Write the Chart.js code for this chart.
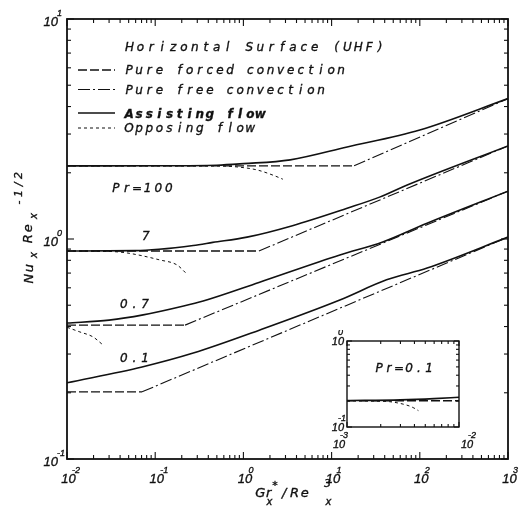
<!DOCTYPE html>
<html>
<head>
<meta charset="utf-8">
<script src="https://cdn.jsdelivr.net/npm/chart.js@4.4.1/dist/chart.umd.min.js"></script>
<style>
  html, body { margin: 0; padding: 0; background: #fff; }
  #wrap { position: relative; width: 524px; height: 522px; }
  #main { position: absolute; left: 0; top: 0; }
  #inset { position: absolute; left: 325px; top: 330px; }
</style>
</head>
<body>
<div id="wrap">
  <canvas id="main" width="524" height="522"></canvas>
  <canvas id="inset" width="160" height="125"></canvas>
</div>
<script>
// Nu_x Re_x^-1/2 vs Gr_x*/Re_x^3, horizontal surface, UHF
const prLabels = ['Pr=100', '7', '0.7', '0.1'];
const labelAtX = [0.0324, 0.0708, 0.0399, 0.0399];
const labelAtY = [1.64, 0.99, 0.486, 0.276];

const forcedNu = [2.15, 0.882, 0.406, 0.202];   // pure forced convection
const freeStart = [18, 1.5, 0.218, 0.071];      // where the free convection line takes over
const freeEndNu = [4.35, 2.65, 1.65, 1.02];     // free convection value at 10^3

const assistX100 = [0.01, 0.1, 0.5, 1, 3.4, 15, 100, 1000];
const assistY100 = [2.15, 2.153, 2.165, 2.2, 2.29, 2.62, 3.13, 4.35];
const assistX7 = [0.01, 0.06, 0.11, 0.27, 0.45, 1.1, 3.6, 15, 35, 72, 1000];
const assistY7 = [0.882, 0.885, 0.898, 0.935, 0.965, 1.02, 1.15, 1.38, 1.55, 1.76, 2.65];
const assistX07 = [0.01, 0.03, 0.073, 0.21, 0.35, 1.5, 12.4, 38, 121, 1000];
const assistY07 = [0.415, 0.428, 0.452, 0.496, 0.523, 0.635, 0.846, 0.97, 1.18, 1.65];
const assistX01 = [0.01, 0.071, 0.27, 1.54, 12.4, 42, 121, 1000];
const assistY01 = [0.222, 0.262, 0.303, 0.386, 0.528, 0.652, 0.738, 1.02];

const opposeX100 = [0.01, 0.5, 0.91, 1.43, 2.17, 2.8];
const opposeY100 = [2.15, 2.148, 2.12, 2.06, 1.95, 1.87];
const opposeX7 = [0.01, 0.03, 0.048, 0.113, 0.177, 0.223];
const opposeY7 = [0.882, 0.878, 0.864, 0.803, 0.762, 0.70];
const opposeX07 = [0.01, 0.014, 0.0197, 0.0249];
const opposeY07 = [0.397, 0.378, 0.359, 0.333];

// inset, Pr = 0.1
const insetForcedX = [0.001, 0.01];
const insetForcedY = [0.202, 0.202];
const insetAssistX = [0.001, 0.003, 0.006, 0.01];
const insetAssistY = [0.203, 0.207, 0.214, 0.222];
const insetOpposeX = [0.001, 0.0018, 0.0024, 0.0034, 0.0039, 0.00434];
const insetOpposeY = [0.202, 0.2, 0.197, 0.18, 0.168, 0.155];

const xTickValues = [0.01, 0.1, 1, 10, 100, 1000];
const xTickExp = ['-2', '-1', '0', '1', '2', '3'];
const yTickValues = [0.1, 1, 10];
const yTickExp = ['-1', '0', '1'];
const insetXTickExp = ['-3', '-2'];
const insetYTickExp = ['-1', '0'];

const legendTitle = 'Horizontal Surface (UHF)';
const legendNames = ['Pure forced convection', 'Pure free convection', 'Assisting flow', 'Opposing flow'];

const ink = '#111';
const styles = {
  forced: { borderDash: [9, 3], borderWidth: 1.3 },
  free: { borderDash: [12, 3, 2, 3], borderWidth: 1.1 },
  assist: { borderDash: [], borderWidth: 1.6 },
  oppose: { borderDash: [3, 3], borderWidth: 1 }
};
const legendKinds = ['forced', 'free', 'assist', 'oppose'];

const sansFont = (size, bold) => 'italic ' + (bold ? 'bold ' : '') + size + 'px "DejaVu Sans"';
const numFont = size => 'italic ' + size + 'px "Liberation Sans"';

function pts(xs, ys) {
  return xs.map((x, i) => ({ x: x, y: ys[i] }));
}
function series(data, kind) {
  return Object.assign({
    data: data,
    showLine: true,
    borderColor: ink,
    pointRadius: 0,
    fill: false,
    cubicInterpolationMode: (kind === 'assist' || kind === 'oppose') ? 'monotone' : 'default'
  }, styles[kind]);
}

const assistX = [assistX100, assistX7, assistX07, assistX01];
const assistY = [assistY100, assistY7, assistY07, assistY01];
const opposeX = [opposeX100, opposeX7, opposeX07, []];
const opposeY = [opposeY100, opposeY7, opposeY07, []];

const mainSets = [];
prLabels.forEach((pr, i) => {
  mainSets.push(series(pts([0.01, freeStart[i]], [forcedNu[i], forcedNu[i]]), 'forced'));
  mainSets.push(series(pts([freeStart[i], 1000], [forcedNu[i], freeEndNu[i]]), 'free'));
  mainSets.push(series(pts(assistX[i], assistY[i]), 'assist'));
  if (opposeX[i].length) mainSets.push(series(pts(opposeX[i], opposeY[i]), 'oppose'));
});

function seg(ctx, x1, y1, x2, y2) {
  ctx.beginPath();
  ctx.moveTo(x1, y1);
  ctx.lineTo(x2, y2);
  ctx.stroke();
}
function logTicks(min, max) {
  const out = [];
  const d0 = Math.round(Math.log10(min)), d1 = Math.round(Math.log10(max));
  for (let d = d0; d < d1; d++) {
    for (let m = 1; m <= 9; m++) out.push({ v: m * Math.pow(10, d), major: m === 1 });
  }
  out.push({ v: max, major: true });
  return out;
}
function frameAndTicks(ctx, a, xs, ys, xr, yr, major, minor, lw) {
  ctx.setLineDash([]);
  ctx.strokeStyle = ink;
  ctx.lineWidth = lw;
  ctx.strokeRect(a.left, a.top, a.right - a.left, a.bottom - a.top);
  ctx.lineWidth = 1.1;
  logTicks(xr[0], xr[1]).forEach(t => {
    const p = xs.getPixelForValue(t.v), len = t.major ? major : minor;
    seg(ctx, p, a.bottom, p, a.bottom - len);
    seg(ctx, p, a.top, p, a.top + len);
  });
  logTicks(yr[0], yr[1]).forEach(t => {
    const p = ys.getPixelForValue(t.v), len = t.major ? major : minor;
    seg(ctx, a.left, p, a.left + len, p);
    seg(ctx, a.right, p, a.right - len, p);
  });
}
// plotter-style text: each character in a fixed-pitch cell, slightly heavy strokes
function plot(ctx, text, x, y, font, pitch, align) {
  ctx.save();
  ctx.font = font;
  ctx.setLineDash([]);
  ctx.fillStyle = ink;
  ctx.strokeStyle = ink;
  ctx.lineWidth = 0.35;
  ctx.textBaseline = 'alphabetic';
  if (!pitch) {
    ctx.textAlign = align || 'left';
    ctx.fillText(text, x, y);
    ctx.strokeText(text, x, y);
  } else {
    const chars = Array.from(text);
    const total = chars.length * pitch;
    const start = align === 'center' ? x - total / 2 : align === 'right' ? x - total : x;
    ctx.textAlign = 'center';
    chars.forEach((c, i) => {
      const cx = start + (i + 0.5) * pitch;
      ctx.fillText(c, cx, y);
      ctx.strokeText(c, cx, y);
    });
  }
  ctx.restore();
}

const mainDecor = {
  id: 'mainDecor',
  afterDraw(chart) {
    const { ctx, chartArea: a, scales: { x, y } } = chart;
    ctx.save();
    frameAndTicks(ctx, a, x, y, [0.01, 1000], [0.1, 10], 7, 4, 1.8);

    // tick labels
    xTickValues.forEach((v, i) => {
      const p = x.getPixelForValue(v);
      plot(ctx, '10', p + 1.5, a.bottom + 24, numFont(13), 0, 'center');
      plot(ctx, xTickExp[i], p + 5, a.bottom + 14, numFont(9), 0, 'left');
    });
    yTickValues.forEach((v, i) => {
      const p = y.getPixelForValue(v);
      plot(ctx, '10', a.left - 9, p + 7, numFont(13), 0, 'right');
      plot(ctx, yTickExp[i], a.left - 10, p - 3, numFont(9), 0, 'left');
    });

    // curve labels
    prLabels.forEach((t, i) => {
      plot(ctx, t, x.getPixelForValue(labelAtX[i]) - 1.5, y.getPixelForValue(labelAtY[i]), sansFont(12), 10.6, 'left');
    });

    // legend
    const lx = a.left + 11, tx = a.left + 57;
    plot(ctx, legendTitle, tx, a.top + 32, sansFont(12), 10.9, 'left');
    const lineY = [51, 70.5, 94, 109];
    const textY = [55, 75, 99, 113];
    legendNames.forEach((name, i) => {
      const st = styles[legendKinds[i]];
      ctx.save();
      ctx.strokeStyle = ink;
      ctx.lineWidth = st.borderWidth;
      ctx.setLineDash(st.borderDash);
      seg(ctx, lx, a.top + lineY[i], lx + 37, a.top + lineY[i]);
      ctx.restore();
      plot(ctx, name, tx, a.top + textY[i], sansFont(12, i === 2), 10.1, 'left');
    });

    // y axis title
    ctx.save();
    ctx.translate(33, 283);
    ctx.rotate(-Math.PI / 2);
    plot(ctx, 'Nu', -1, 0, sansFont(13), 10.5, 'left');
    plot(ctx, 'x', 24, 4, sansFont(10), 8, 'left');
    plot(ctx, 'Re', 39, -1, sansFont(13), 10.5, 'left');
    plot(ctx, 'x', 63, 4, sansFont(10), 8, 'left');
    plot(ctx, '-1/2', 76, -11, sansFont(11), 9, 'left');
    ctx.restore();

    // x axis title
    plot(ctx, 'Gr', 256, 497, sansFont(13), 8.5, 'left');
    plot(ctx, 'x', 265, 505, sansFont(10), 9, 'left');
    plot(ctx, '*', 271, 489, sansFont(11), 8, 'left');
    plot(ctx, '/Re', 279, 497, sansFont(13), 10.3, 'left');
    plot(ctx, '3', 323, 487, sansFont(11), 9, 'left');
    plot(ctx, 'x', 324, 505, sansFont(10), 9, 'left');
    ctx.restore();
  }
};

new Chart(document.getElementById('main'), {
  type: 'scatter',
  data: { datasets: mainSets },
  options: {
    responsive: false,
    animation: false,
    layout: { padding: { left: 0, right: 16, top: 19, bottom: 0 } },
    plugins: { legend: { display: false }, tooltip: { enabled: false } },
    scales: {
      x: {
        type: 'logarithmic', min: 0.01, max: 1000,
        grid: { display: false }, border: { display: false }, ticks: { display: false },
        afterFit: s => { s.height = 63; }
      },
      y: {
        type: 'logarithmic', min: 0.1, max: 10,
        grid: { display: false }, border: { display: false }, ticks: { display: false },
        afterFit: s => { s.width = 67; }
      }
    }
  },
  plugins: [mainDecor]
});

const insetDecor = {
  id: 'insetDecor',
  beforeDraw(chart) {
    const { ctx, chartArea: a } = chart;
    ctx.save();
    ctx.fillStyle = '#fff';
    ctx.fillRect(a.left, a.top, a.right - a.left, a.bottom - a.top);
    ctx.restore();
  },
  afterDraw(chart) {
    const { ctx, chartArea: a, scales: { x, y } } = chart;
    ctx.save();
    frameAndTicks(ctx, a, x, y, [0.001, 0.01], [0.1, 1], 5, 3, 1.4);
    const xv = [0.001, 0.01];
    xv.forEach((v, i) => {
      const p = x.getPixelForValue(v);
      const c = i === 0 ? p - 8 : p + 8;
      plot(ctx, '10', c, a.bottom + 21, numFont(11), 0, 'center');
      plot(ctx, insetXTickExp[i], c + 1, a.bottom + 11, numFont(9), 0, 'left');
    });
    const yv = [0.1, 1];
    yv.forEach((v, i) => {
      const p = y.getPixelForValue(v);
      plot(ctx, '10', a.left - 3, p + 4, numFont(11), 0, 'right');
      plot(ctx, insetYTickExp[i], a.left - 9, p - 6, numFont(9), 0, 'left');
    });
    plot(ctx, 'Pr=0.1', a.left + 27, a.top + 31, sansFont(12), 10, 'left');
    ctx.restore();
  }
};

new Chart(document.getElementById('inset'), {
  type: 'scatter',
  data: {
    datasets: [
      series(pts(insetForcedX, insetForcedY), 'forced'),
      series(pts(insetAssistX, insetAssistY), 'assist'),
      series(pts(insetOpposeX, insetOpposeY), 'oppose')
    ]
  },
  options: {
    responsive: false,
    animation: false,
    layout: { padding: { left: 0, right: 26, top: 11, bottom: 0 } },
    plugins: { legend: { display: false }, tooltip: { enabled: false } },
    scales: {
      x: {
        type: 'logarithmic', min: 0.001, max: 0.01,
        grid: { display: false }, border: { display: false }, ticks: { display: false },
        afterFit: s => { s.height = 28; }
      },
      y: {
        type: 'logarithmic', min: 0.1, max: 1,
        grid: { display: false }, border: { display: false }, ticks: { display: false },
        afterFit: s => { s.width = 22; }
      }
    }
  },
  plugins: [insetDecor]
});
</script>
</body>
</html>
